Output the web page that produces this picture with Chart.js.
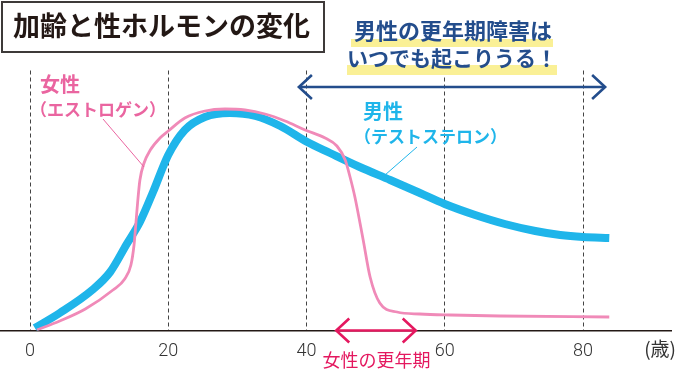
<!DOCTYPE html>
<html><head><meta charset="utf-8">
<script src="https://cdn.jsdelivr.net/npm/chart.js@4.4.1/dist/chart.umd.min.js"></script>
<style>html,body{margin:0;padding:0;background:#fff;overflow:hidden}canvas{display:block}</style>
</head><body>
<canvas id="c" width="676" height="372"></canvas>
<script>
// ---- data (age in years, relative hormone level) ----
const maleAges   = [0.7, 4.3, 9.0, 11.6, 14.0, 15.9, 17.8, 20.0, 22.4, 25.3, 28.9, 32.6, 36.2, 40.1, 43.4, 47.7, 52.1, 56.4, 60.0, 64.4, 68.7, 73.1, 76.7, 80.0, 83.8];
const maleLevels = [2.5, 17.5, 40.5, 58.5, 86.5, 108.5, 138.5, 175.5, 200.5, 213.5, 217.5, 214.5, 204.5, 188.5, 177.5, 163.5, 150.5, 137.5, 126.5, 115.5, 106.5, 99.5, 95.5, 93.5, 92.5];
const femaleAges   = [1.0, 4.3, 8.0, 12.0, 13.7, 14.6, 15.05, 15.3, 15.6, 15.9, 16.5, 17.4, 18.8, 20.0, 22.4, 25.3, 28.2, 31.1, 34.0, 36.9, 39.8, 42.7, 44.4, 45.6, 46.3, 47.0, 48.2, 49.2, 50.6, 53.1, 56.4, 60.8, 68.0, 83.8];
const femaleLevels = [0.5, 9.5, 21.5, 40.5, 51.5, 65.5, 85.5, 105.5, 130.5, 150.5, 167.5, 180.5, 192.5, 199.5, 212.5, 219.5, 221.5, 220.5, 216.5, 209.5, 200.5, 192.5, 184.5, 170.5, 153.5, 133.5, 90.5, 53.5, 27.5, 18.5, 16.5, 15.5, 14.5, 13.5];
const tickAges   = [0, 20, 40, 60, 80];
const tickLabels = ['0', '20', '40', '60', '80'];
const unitLabel  = '(歳)';
const titleText  = '加齢と性ホルモンの変化';
const maleName   = ['男性', '（テストステロン）'];
const femaleName = ['女性', '（エストロゲン）'];
const maleNote   = ['男性の更年期障害は', 'いつでも起こりうる！'];
const maleSpan   = [38.9, 83.2];
const femaleNote = '女性の更年期';
const femaleSpan = [44.3, 55.8];

const JP = '"Noto Sans CJK JP", "Noto Sans", sans-serif';
const PINK_LINE = '#f08ab8', PINK_TEXT = '#ea65a0', CYAN = '#1fb5ea', NAVY = '#234d8c', MAGENTA = '#e4185f';

function arrow(ctx, x1, x2, y, color) {
  ctx.save();
  ctx.strokeStyle = color; ctx.lineWidth = 2.6; ctx.lineCap = 'butt'; ctx.lineJoin = 'miter';
  ctx.beginPath(); ctx.moveTo(x1, y); ctx.lineTo(x2, y); ctx.stroke();
  ctx.beginPath(); ctx.moveTo(x1 + 13, y - 12); ctx.lineTo(x1, y); ctx.lineTo(x1 + 13, y + 12); ctx.stroke();
  ctx.beginPath(); ctx.moveTo(x2 - 13, y - 12); ctx.lineTo(x2, y); ctx.lineTo(x2 - 13, y + 12); ctx.stroke();
  ctx.restore();
}

const annot = {
  id: 'annot',
  afterDraw(chart) {
    const ctx = chart.ctx, xs = chart.scales.x;
    ctx.save();
    // title box
    ctx.strokeStyle = '#3e3a39'; ctx.lineWidth = 2;
    ctx.strokeRect(2, 2, 322, 50);
    ctx.fillStyle = '#231815'; ctx.font = 'bold 27px ' + JP;
    ctx.textBaseline = 'middle'; ctx.textAlign = 'left';
    ctx.fillText(titleText, 13, 26);
    // male note with highlights
    ctx.fillStyle = '#faf096';
    ctx.fillRect(351, 39, 202, 8);
    ctx.fillRect(347, 65, 210, 10);
    ctx.fillStyle = NAVY; ctx.font = 'bold 22px ' + JP; ctx.textAlign = 'center';
    ctx.fillText(maleNote[0], 453, 31);
    ctx.font = 'bold 21px ' + JP; ctx.textAlign = 'left';
    ctx.fillText(maleNote[1], 347, 58);
    arrow(ctx, xs.getPixelForValue(maleSpan[0]), xs.getPixelForValue(maleSpan[1]), 87, NAVY);
    // female menopause
    arrow(ctx, xs.getPixelForValue(femaleSpan[0]), xs.getPixelForValue(femaleSpan[1]), chart.chartArea.bottom, MAGENTA);
    ctx.fillStyle = MAGENTA; ctx.font = '18px ' + JP; ctx.textAlign = 'center';
    ctx.fillText(femaleNote, 376.5, 360);
    // series labels
    ctx.textAlign = 'left';
    ctx.fillStyle = PINK_TEXT; ctx.font = 'bold 20px ' + JP;
    ctx.fillText(femaleName[0], 40, 84);
    ctx.font = 'bold 17px ' + JP;
    ctx.fillText(femaleName[1], 30, 110);
    ctx.strokeStyle = PINK_TEXT; ctx.lineWidth = 1;
    ctx.beginPath(); ctx.moveTo(103, 119); ctx.lineTo(144, 167); ctx.stroke();
    ctx.fillStyle = CYAN; ctx.font = 'bold 20px ' + JP;
    ctx.fillText(maleName[0], 363, 111);
    ctx.font = 'bold 17px ' + JP;
    ctx.fillText(maleName[1], 354, 137);
    ctx.strokeStyle = CYAN; ctx.lineWidth = 1;
    ctx.beginPath(); ctx.moveTo(417, 147); ctx.lineTo(385, 175); ctx.stroke();
    // unit label
    ctx.fillStyle = '#333'; ctx.font = '19px ' + JP; ctx.textAlign = 'right';
    ctx.fillText(unitLabel, 676, 349);
    ctx.restore();
  }
};

const toPts = (a, v) => a.map((x, i) => ({ x: x, y: v[i] }));

new Chart(document.getElementById('c'), {
  type: 'line',
  data: {
    datasets: [
      { label: maleName[0], data: toPts(maleAges, maleLevels), borderColor: CYAN, borderWidth: 8,
        pointRadius: 0, cubicInterpolationMode: 'monotone', borderCapStyle: 'butt', borderJoinStyle: 'round', order: 2 },
      { label: femaleName[0], data: toPts(femaleAges, femaleLevels), borderColor: PINK_LINE, borderWidth: 2.8,
        pointRadius: 0, cubicInterpolationMode: 'monotone', borderCapStyle: 'butt', borderJoinStyle: 'round', order: 1 }
    ]
  },
  options: {
    responsive: false, animation: false, devicePixelRatio: 1,
    layout: { padding: { top: 70.5, left: 0, right: 5, bottom: 0 } },
    plugins: { legend: { display: false }, tooltip: { enabled: false } },
    scales: {
      x: {
        type: 'linear', min: -4.34, max: 92.73,
        afterBuildTicks: s => { s.ticks = tickAges.map(v => ({ value: v })); },
        afterFit: s => { s.height = 41.5; },
        ticks: { callback: (v) => tickLabels[tickAges.indexOf(v)], color: '#333',
                 font: { family: 'Roboto, "Liberation Sans", sans-serif', size: 18, weight: '300' }, padding: 10, maxRotation: 0, autoSkip: false },
        grid: { color: '#444', lineWidth: 1, drawTicks: false },
        border: { display: true, color: '#231815', width: 1.5, dash: [4, 3] }
      },
      y: { display: false, min: 0, max: 260 }
    }
  },
  plugins: [annot]
});
</script>
</body></html>
